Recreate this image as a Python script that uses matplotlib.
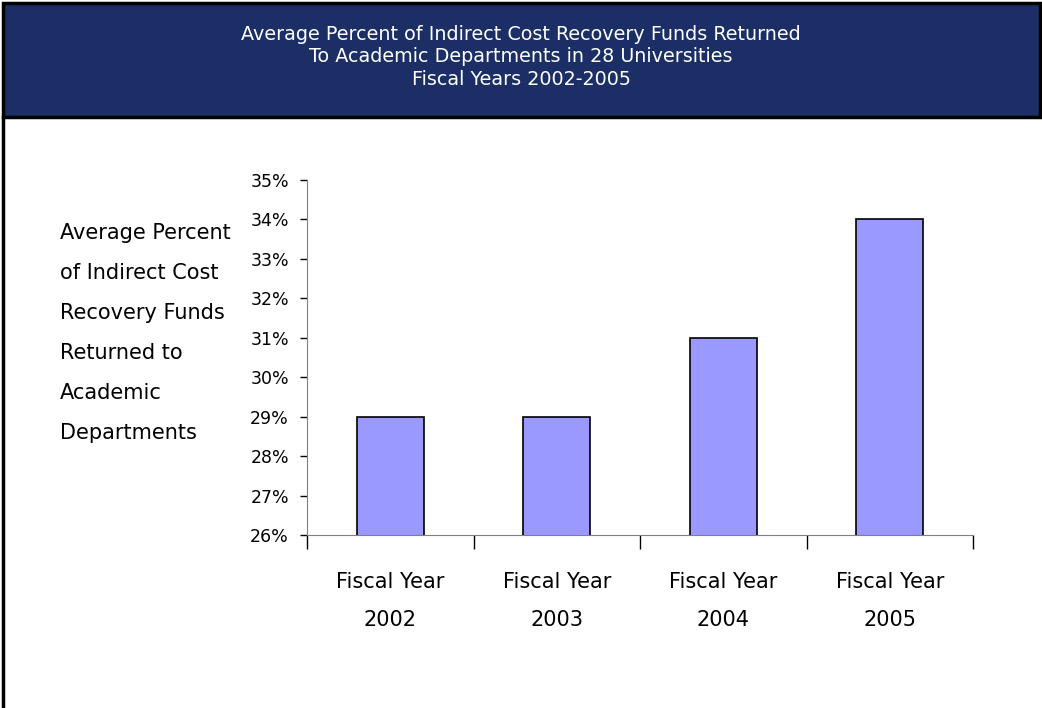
import matplotlib

matplotlib.use("Agg")
import matplotlib.pyplot as plt
from matplotlib.patches import Rectangle
from matplotlib.lines import Line2D
from matplotlib.ticker import FuncFormatter, FixedLocator
import numpy as np

plt.rcParams["font.family"] = ["DejaVu Sans"]

# chart data
years = ["2002", "2003", "2004", "2005"]
avg_pct_returned = [29, 29, 31, 34]
tick_labels = [f"Fiscal Year\n\n{y}" for y in years]

TITLE = ("Average Percent of Indirect Cost Recovery Funds Returned\n"
         "To Academic Departments in 28 Universities\n"
         "Fiscal Years 2002-2005")
YLABEL_LINES = ["Average Percent", "of Indirect Cost", "Recovery Funds",
                "Returned to", "Academic", "Departments"]

NAVY = "#1b2f66"
BAR = "#9999ff"

W, H = 1042, 708
fig = plt.figure(figsize=(W / 100, H / 100), dpi=100)
fig.patch.set_facecolor("white")


def fx(px):
    return px / W


def fy(py):
    return 1 - py / H


# header band and frame
fig.patches.append(Rectangle((fx(3), fy(117)), fx(1037), fy(3) - fy(117),
                             transform=fig.transFigure, facecolor=NAVY,
                             edgecolor="black", linewidth=2.5, zorder=0))
fig.lines.append(Line2D([fx(3), fx(3)], [fy(117), 0], transform=fig.transFigure,
                        color="black", linewidth=2.5))
fig.text(0.5, fy(57), TITLE, color="white", ha="center", va="center",
         fontsize=13.8, linespacing=1.25)

# axes
ax = fig.add_axes([fx(307), fy(535), fx(973) - fx(307), fy(180) - fy(535)])
x = np.arange(len(years))
ax.bar(x, avg_pct_returned, width=0.4, color=BAR, edgecolor="black",
       linewidth=1.2, bottom=0, zorder=3)
ax.set_ylim(26, 35)
ax.set_xlim(-0.5, len(years) - 0.5)
ax.set_yticks(range(26, 36))
ax.yaxis.set_major_formatter(FuncFormatter(lambda v, p: f"{v:.0f}%"))

# category boundary ticks on x axis, labels in between
ax.xaxis.set_major_locator(FixedLocator(np.arange(-0.5, len(years), 1.0)))
ax.xaxis.set_major_formatter(FuncFormatter(lambda v, p: ""))
ax.set_xticks(x, minor=True)
ax.set_xticklabels(tick_labels, minor=True)
ax.tick_params(axis="x", which="minor", length=0, pad=27, labelsize=15)
ax.tick_params(axis="x", which="major", length=10, direction="out", width=1)
ax.tick_params(axis="y", length=5, width=1, labelsize=12.5, pad=8)
for lbl in ax.get_xticklabels(minor=True):
    lbl.set_linespacing(0.92)

for s in ("top", "right"):
    ax.spines[s].set_visible(False)
ax.spines["left"].set_color("#808080")
ax.spines["bottom"].set_color("#808080")

# y axis title as stacked left-aligned lines
for i, line in enumerate(YLABEL_LINES):
    fig.text(fx(60), fy(233 + 40 * i), line, ha="left", va="center",
             fontsize=15)

fig.savefig("out.png", dpi=100, facecolor="white")
